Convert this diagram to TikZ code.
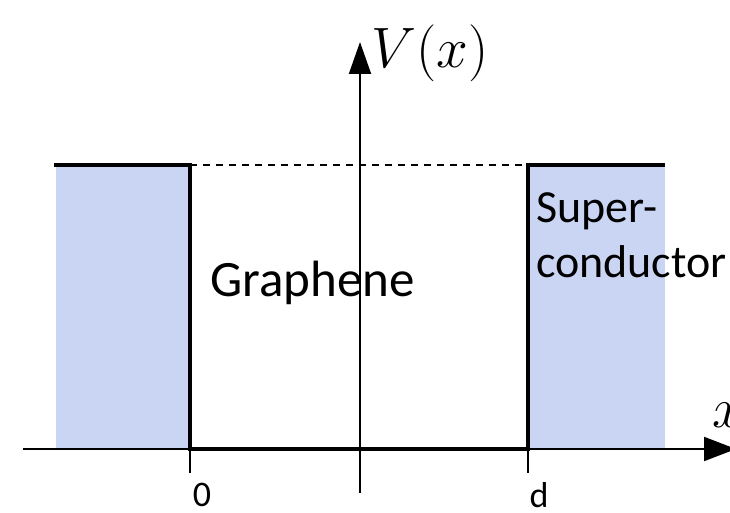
\documentclass[tikz,border=0pt]{standalone}
\usepackage{fontspec}
\setmainfont{Carlito}
\usetikzlibrary{arrows.meta}
\definecolor{scfill}{RGB}{202,213,243}
\tikzset{
  thickline/.style={line width=4pt, line cap=rect},
  axisline/.style={line width=2pt},
  tickline/.style={line width=2pt},
  lbl/.style={inner sep=0pt, font=\fontsize{36}{40}\selectfont},
  region/.style={inner sep=0pt, anchor=base west},
  mathlbl/.style={inner sep=0pt, anchor=base west, scale=2.29, font=\fontsize{24.88}{30}\selectfont},
}
\begin{document}
\begin{tikzpicture}[x=1pt,y=-1pt]
\useasboundingbox (0,0) rectangle (730,513);
% shaded regions
\fill[scfill] (56,165) rectangle (190,449);
\fill[scfill] (528,165) rectangle (665,449);
% coordinates
\coordinate (xs) at (23,449);
\coordinate (xe) at (736,449);
\coordinate (ys) at (360,493);
\coordinate (ye) at (360,42);
\coordinate (tl) at (56,165);
\coordinate (a) at (190,165);
\coordinate (b) at (190,449);
\coordinate (c) at (528,449);
\coordinate (d) at (528,165);
\coordinate (tr) at (663,165);
\coordinate (t0) at (190,473);
\coordinate (td) at (528,473);
% axes
\draw[axisline,-{Triangle[length=32pt,width=24pt]}] (xs) -- (xe);
\draw[axisline,-{Triangle[length=32pt,width=22pt]}] (ys) -- (ye);
% potential
\draw[thickline] (tl) -- (a) -- (b) -- (c) -- (d) -- (tr);
\draw[line width=1.2pt, dash pattern=on 7pt off 6pt] (a) -- (d);
% ticks
\draw[tickline] (b) -- (t0);
\draw[tickline] (c) -- (td);
% labels
\node[mathlbl] (vlab) at (371,68) {$V(x)$};
\node[mathlbl] (xlab) at (712,427) {$x$};
\node[region, font=\fontsize{51}{55}\selectfont] (gr) at (210,296) {Graphene};
\node[region, font=\fontsize{46}{50}\selectfont] (sc1) at (536,222) {Super-};
\node[region, font=\fontsize{46}{50}\selectfont] (sc2) at (536,277) {conductor};
\node[lbl, anchor=base] (l0) at (202,506) {0};
\node[lbl, anchor=base] (ld) at (539,507) {d};
\end{tikzpicture}
\end{document}
